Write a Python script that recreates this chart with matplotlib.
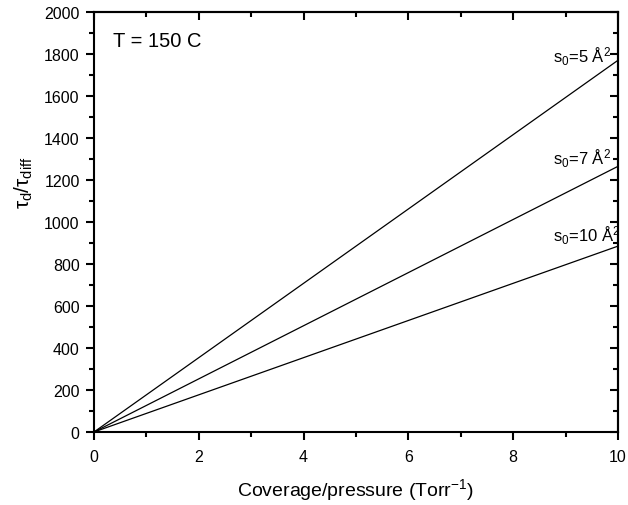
import matplotlib
matplotlib.use("Agg")
import matplotlib.pyplot as plt
import numpy as np
from matplotlib.ticker import MultipleLocator

plt.rcParams['font.family'] = ['Liberation Sans', 'DejaVu Sans']
plt.rcParams['mathtext.fontset'] = 'custom'
plt.rcParams['mathtext.rm'] = 'Liberation Sans'
plt.rcParams['mathtext.it'] = 'Liberation Sans'

x_end = [0, 10]
series_labels = [r"s$_0$=5 Å$^2$", r"s$_0$=7 Å$^2$", r"s$_0$=10 Å$^2$"]
end_values = [1770, 1265, 885]
label_x = 8.76
label_y = [1762, 1276, 911]

fig = plt.figure(figsize=(6.28, 5.06), dpi=100)
ax = fig.add_axes([0.1497, 0.1443, 0.8343, 0.8300])

for lab, v, ly in zip(series_labels, end_values, label_y):
    ax.plot(x_end, [0, v], color='black', lw=0.9)
    ax.text(label_x, ly, lab, ha='left', va='baseline', fontsize=12)

ax.set_xlim(0, 10)
ax.set_ylim(0, 2000)
ax.xaxis.set_major_locator(MultipleLocator(2))
ax.xaxis.set_minor_locator(MultipleLocator(1))
ax.yaxis.set_major_locator(MultipleLocator(200))
ax.yaxis.set_minor_locator(MultipleLocator(100))

lw = 1.5
ax.tick_params(which='both', direction='out', width=lw, labelsize=11.5, top=False, right=False)
ax.tick_params(which='major', length=6)
ax.tick_params(which='minor', length=3.5)
ax.tick_params(axis='x', which='major', pad=6.5)
ax.tick_params(axis='y', which='major', pad=4.3)

# inward ticks on top and right
ax2 = ax.secondary_xaxis('top')
ax2.xaxis.set_major_locator(MultipleLocator(2))
ax2.xaxis.set_minor_locator(MultipleLocator(1))
ax2.tick_params(which='both', direction='in', width=lw, labeltop=False)
ax2.tick_params(which='major', length=6)
ax2.tick_params(which='minor', length=3.5)
ax2.spines['top'].set_linewidth(lw)
ax3 = ax.secondary_yaxis('right')
ax3.yaxis.set_major_locator(MultipleLocator(200))
ax3.yaxis.set_minor_locator(MultipleLocator(100))
ax3.tick_params(which='both', direction='in', width=lw, labelright=False)
ax3.tick_params(which='major', length=6)
ax3.tick_params(which='minor', length=3.5)
ax3.spines['right'].set_linewidth(lw)

for s in ax.spines.values():
    s.set_linewidth(lw)

ax.set_xlabel(r"Coverage/pressure (Torr$^{-1}$)", fontsize=14)
ax.xaxis.set_label_coords(0.5, -0.105)
ax.set_ylabel(r"$\tau_{\rm d}/\tau_{\rm diff}$", fontsize=15)
ax.yaxis.set_label_coords(-0.113, 0.595)
ax.text(0.036, 0.955, "T = 150 C", transform=ax.transAxes, ha='left', va='top', fontsize=14.5)

fig.savefig("out.png", dpi=100)
